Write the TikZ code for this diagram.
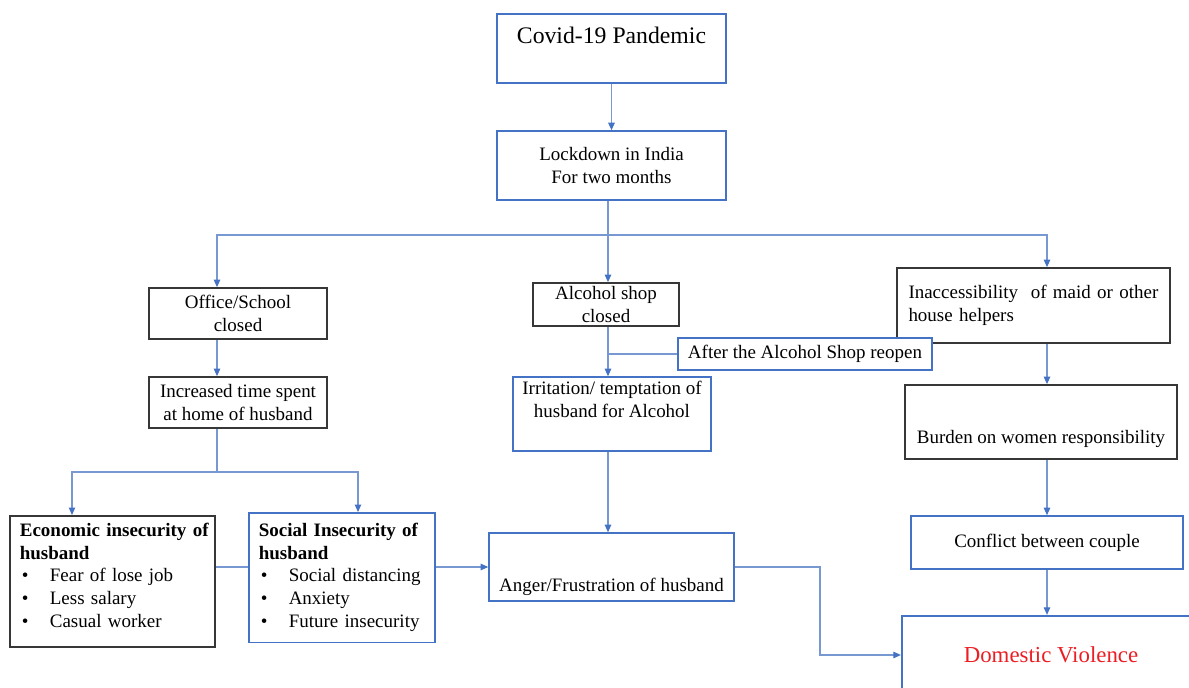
\documentclass[tikz,border=0pt]{standalone}
\usepackage{fontspec}
\setmainfont{Liberation Serif}
\usetikzlibrary{arrows.meta}
\definecolor{boxblue}{RGB}{68,114,196}
\definecolor{lineblue}{RGB}{120,152,210}
\definecolor{boxgray}{RGB}{55,55,55}
\definecolor{dvred}{RGB}{235,30,35}
\newcommand{\lstbullet}{\makebox[6mm][l]{\hspace{0.4mm}\textbullet}}
\tikzset{
    every node/.style={font=\fontsize{10.8}{13}\selectfont},
    bluebox/.style={draw=boxblue, line width=0.9pt, fill=white, align=center, inner sep=1mm},
    blackbox/.style={draw=boxgray, line width=1pt, fill=white, align=center, inner sep=1mm},
    conn/.style={draw=lineblue, line width=0.6pt},
    >={Triangle[length=1.5mm,width=1.3mm,color=boxblue]}
}

\begin{document}
\begin{tikzpicture}[x=0.2mm,y=-0.2mm]
    \useasboundingbox (0,0) rectangle (1189,688);
    % columns the arrows run in
    \coordinate (lcol) at (217,0);
    \coordinate (mcol) at (608,0);
    \coordinate (rcol) at (1047,0);
    \coordinate (ecol) at (72,0);
    \coordinate (scol) at (358,0);
    \coordinate (bend) at (820,0);
    \coordinate (split) at (608,235);
    \coordinate (fork) at (217,472);

    \node[bluebox, minimum width=45.8mm, minimum height=13.8mm, font=\fontsize{13.5}{16}\selectfont,
        text height=3.5mm, text depth=5.6mm] (covid) at (611.5,48.5) {Covid-19 Pandemic};
    \node[bluebox, minimum width=45.8mm, minimum height=13.8mm] (lockdown) at (611.5,165.5) {Lockdown in India\\For two months};

    % left branch
    \node[blackbox, minimum width=35.6mm, minimum height=10.2mm, inner ysep=0.3mm] (office) at (238,313.5) {Office/School\\closed};
    \node[blackbox, minimum width=35.6mm, minimum height=10.2mm, inner ysep=0.3mm] (timehome) at (238,402.5) {Increased time spent\\at home of husband};
    \node[blackbox, anchor=north west, align=left, text width=37mm, inner xsep=2mm, inner ysep=1.4mm,
        minimum height=25.8mm] (econ) at (9,515)
        {\makebox[\linewidth][s]{\textbf{Economic insecurity of}}\\
         \textbf{husband}\\
         \lstbullet Fear of lose job\\
         \lstbullet Less salary\\
         \lstbullet Casual worker\rule[-2.4mm]{0pt}{2.4mm}};
    \node[bluebox, anchor=north west, align=left, text width=33.2mm, inner xsep=2mm, inner ysep=2mm,
        minimum height=25.8mm] (social) at (248,512)
        {\textbf{Social Insecurity of}\\
         \textbf{husband}\\
         \lstbullet Social distancing\\
         \lstbullet Anxiety\\
         \lstbullet Future insecurity\rule[-1mm]{0pt}{1mm}};

    % middle branch
    \node[blackbox, minimum width=29.2mm, minimum height=8.6mm, inner ysep=0.2mm] (shop) at (606,304.5) {Alcohol shop\\closed};
    \node[bluebox, minimum width=39.6mm, minimum height=14.8mm, inner ysep=0.3mm] (irrit) at (612,414) {Irritation/ temptation of\\husband for Alcohol\\[1.4mm]\mbox{}};
    \node[bluebox, minimum width=49mm, minimum height=13.6mm, inner ysep=0.3mm,
        text height=10.9mm, text depth=1mm] (anger) at (611.5,567) {Anger/Frustration of husband};

    % right branch
    \node[blackbox, minimum width=54.6mm, minimum height=15mm, align=left, text width=50mm, inner xsep=2.2mm] (maid) at (1033.5,305.5)
        {Inaccessibility~ of maid or other\\house helpers};
    \node[bluebox, minimum width=50.8mm, minimum height=6.4mm, inner sep=0.5mm] (reopen) at (805,354) {After the Alcohol Shop reopen};
    \node[blackbox, minimum width=54.4mm, minimum height=14.8mm, inner ysep=0.3mm,
        text height=9.7mm, text depth=1mm] (burden) at (1041,422) {Burden on women responsibility};
    \node[bluebox, minimum width=54.4mm, minimum height=10.6mm] (conflict) at (1047,542.5) {Conflict between couple};
    \node[draw=boxblue, line width=1.3pt, fill=white, minimum width=59.6mm, minimum height=15.6mm,
        font=\fontsize{13}{15}\selectfont, text=dvred] (dv) at (1051,655) {Domestic Violence};

    % connectors
    \draw[conn,->] (covid) -- (lockdown);
    \draw[conn,->] (lockdown.south -| mcol) -- (shop.north -| mcol);
    \draw[conn,->] (split) -| (lcol |- office.north);
    \draw[conn,->] (split) -| (rcol |- maid.north);
    \draw[conn,->] (office.south -| lcol) -- (timehome.north -| lcol);
    \draw[conn] (timehome.south -| lcol) -- (fork);
    \draw[conn,->] (fork) -| (ecol |- econ.north);
    \draw[conn,->] (fork) -| (scol |- social.north);
    \draw[conn] (econ.east |- anger.west) -- (social.west |- anger.west);
    \draw[conn,->] (social.east |- anger.west) -- (anger.west);
    \draw[conn,->] (shop.south -| mcol) -- (irrit.north -| mcol);
    \draw[conn] (reopen.west) -- (reopen.west -| mcol);
    \draw[conn,->] (irrit.south -| mcol) -- (anger.north -| mcol);
    \draw[conn,->] (anger.east) -| (bend |- dv.west) -- (dv.west);
    \draw[conn,->] (maid.south -| rcol) -- (burden.north -| rcol);
    \draw[conn,->] (burden.south -| rcol) -- (conflict.north -| rcol);
    \draw[conn,->] (conflict.south -| rcol) -- (dv.north -| rcol);
\end{tikzpicture}
\end{document}
